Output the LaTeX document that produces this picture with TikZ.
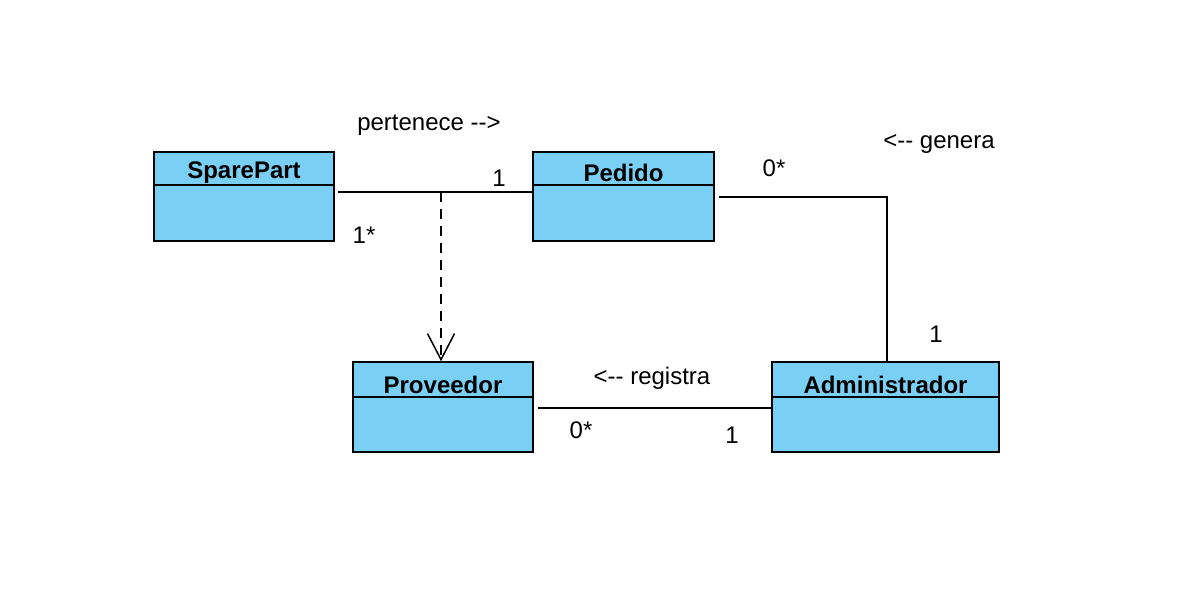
\documentclass[tikz,border=0pt]{standalone}
\usepackage{fontspec}
\setmainfont{Liberation Sans}
\usetikzlibrary{arrows.meta,calc}
\definecolor{clsfill}{RGB}{122,207,244}
\begin{document}
\begin{tikzpicture}[x=1pt,y=-1pt,
  cls/.style={draw=black, fill=clsfill, line width=1.5pt, inner sep=0pt},
  ttl/.style={font=\fontsize{24}{26}\selectfont\bfseries, inner sep=0pt, anchor=center},
  lbl/.style={font=\fontsize{24}{26}\selectfont, inner sep=0pt, anchor=center},
  conn/.style={line width=1.5pt},
  dep/.style={line width=1.5pt, dash pattern=on 10pt off 7pt}
]
\useasboundingbox (0,0) rectangle (1194,609);
% classes
\node[cls, minimum width=180pt, minimum height=89pt] (sp) at (244,196.5) {};
\node[cls, minimum width=181pt, minimum height=89pt] (ped) at (623.5,196.5) {};
\node[cls, minimum width=180pt, minimum height=90pt] (prov) at (443,407) {};
\node[cls, minimum width=227pt, minimum height=90pt] (adm) at (885.5,407) {};
% dividers
\draw[conn] (154,185) -- (334,185);
\draw[conn] (533,185) -- (714,185);
\draw[conn] (353,397) -- (533,397);
\draw[conn] (772,397) -- (999,397);
% titles
\node[ttl] (tsp) at (244,172.5) {SparePart};
\node[ttl] (tped) at (623.5,172.5) {Pedido};
\node[ttl] (tprov) at (443,384.5) {Proveedor};
\node[ttl] (tadm) at (885.5,384.5) {Administrador};
% connectors
\draw[conn] ($(sp.east)+(3,-4.5)$) -- ($(ped.west)+(0,-4.5)$);
\coordinate (m) at (441,192);
\draw[dep, -{Straight Barb[length=26pt,width=27pt,line width=1.5pt]}] (m) -- (m |- prov.north);
\coordinate (bend) at (887,197);
\draw[conn] ($(ped.east)+(4,0.5)$) -- (bend) -- (bend |- adm.north);
\draw[conn] ($(prov.east)+(4,1)$) -- ($(adm.west)+(0,1)$);
% labels
\node[lbl] (l1) at (429,125) {pertenece -{}-{}>};
\node[lbl] (l2) at (499,178) {1};
\node[lbl] (l3) at (364,235) {1*};
\node[lbl] (l4) at (774,168) {0*};
\node[lbl] (l5) at (939,144) {<{}-{}- genera};
\node[lbl] (l6) at (936,334) {1};
\node[lbl] (l7) at (652,378) {<{}-{}- registra};
\node[lbl] (l8) at (581,430) {0*};
\node[lbl] (l9) at (732,435) {1};
\end{tikzpicture}
\end{document}
